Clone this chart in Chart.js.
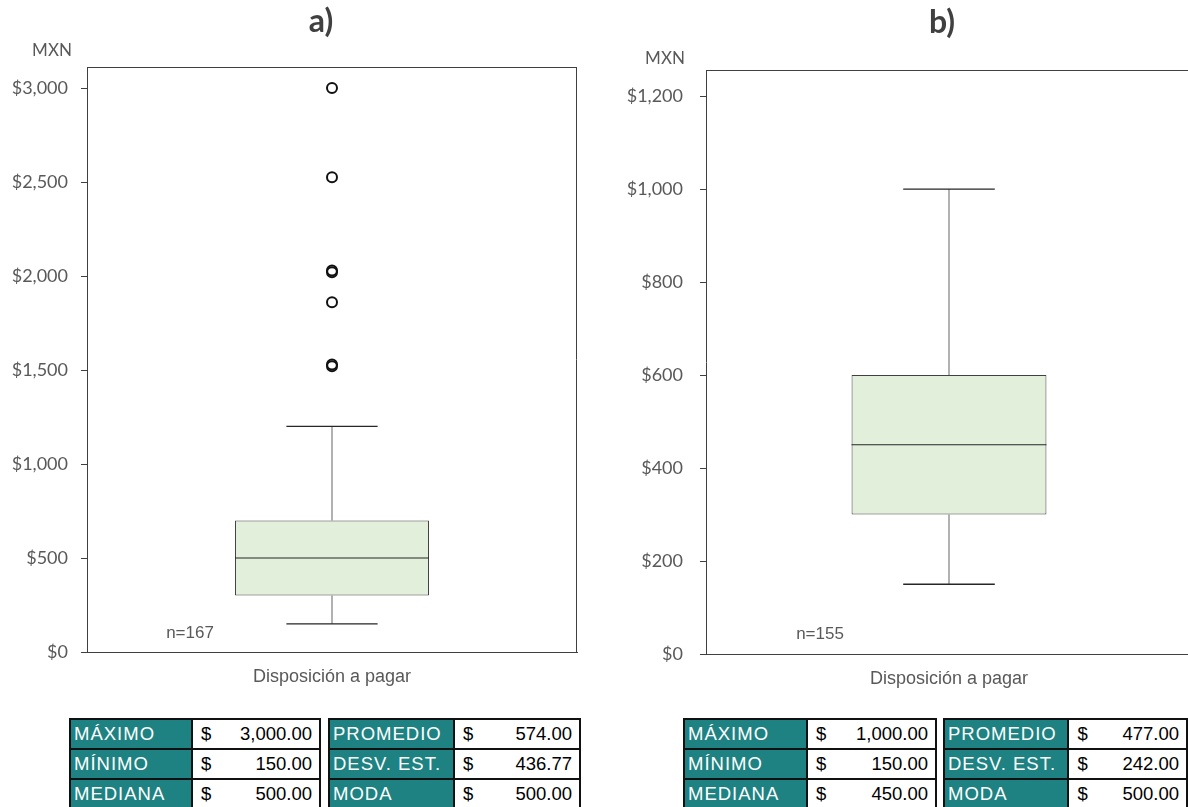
<!DOCTYPE html>
<html>
<head>
<meta charset="utf-8">
<script src="https://cdn.jsdelivr.net/npm/chart.js@4.4.1/dist/chart.umd.min.js"></script>
<style>
  html, body { margin: 0; padding: 0; background: #ffffff; overflow: hidden; width: 1188px; height: 807px; }
  .wrap { position: absolute; top: 0; }
  canvas { display: block; }
  .stats { position: absolute; border-collapse: collapse; font-family: "Liberation Sans", Arial, sans-serif; font-size: 18.5px; }
  .stats td { padding: 0; border: 2px solid #111; box-sizing: border-box; }
  .stats td.k { background: #1e8282; color: #ffffff; padding-left: 3px; letter-spacing: 1px; }
  .stats td.v { background: #ffffff; color: #000000; }
  .stats td.v span.cur { float: left; padding-left: 8px; }
  .stats td.v span.num { float: right; padding-right: 7px; }
</style>
</head>
<body>
<div class="wrap" style="left:0;width:600px;height:700px;"><canvas id="chartA" width="600" height="700"></canvas></div>
<div class="wrap" style="left:600px;width:620px;height:700px;"><canvas id="chartB" width="620" height="700"></canvas></div>
<div id="tables"></div>
<script>
// ---- data ----
const categories = ['Disposición a pagar'];

// whisker low, Q1, median, Q3, whisker high
const boxA = [150, 300, 500, 700, 1200];
const outliersA = [3000, 2525, 2030, 2020, 1860, 1530, 1520];
const boxB = [150, 300, 450, 600, 1000];
const outliersB = [];

const sampleA = 'n=167';
const sampleB = 'n=155';

const yTicksA = [0, 500, 1000, 1500, 2000, 2500, 3000];
const yTicksB = [0, 200, 400, 600, 800, 1000, 1200];

const statLabelsLeft = ['MÁXIMO', 'MÍNIMO', 'MEDIANA'];
const statLabelsRight = ['PROMEDIO', 'DESV. EST.', 'MODA'];
const statsA_left = [3000, 150, 500];
const statsA_right = [574, 436.77, 500];
const statsB_left = [1000, 150, 450];
const statsB_right = [477, 242, 500];

// ---- plugins ----
const boxPlotPlugin = {
  id: 'boxWhiskers',
  afterDatasetsDraw(chart, args, opts) {
    const meta = chart.getDatasetMeta(0);
    const y = chart.scales.y;
    const ctx = chart.ctx;
    const stats = opts.stats;
    meta.data.forEach((bar) => {
      const cx = bar.x;
      const half = bar.width / 2;
      const capHalf = bar.width * 0.235;
      const yLow = y.getPixelForValue(stats[0]);
      const yQ1 = y.getPixelForValue(stats[1]);
      const yMed = y.getPixelForValue(stats[2]);
      const yQ3 = y.getPixelForValue(stats[3]);
      const yHigh = y.getPixelForValue(stats[4]);
      ctx.save();
      // whisker stems
      ctx.strokeStyle = '#7f7f7f';
      ctx.lineWidth = 1.2;
      ctx.beginPath();
      ctx.moveTo(cx, yQ3); ctx.lineTo(cx, yHigh);
      ctx.moveTo(cx, yQ1); ctx.lineTo(cx, yLow);
      ctx.stroke();
      // caps
      ctx.strokeStyle = '#262626';
      ctx.lineWidth = 1.3;
      ctx.beginPath();
      ctx.moveTo(cx - capHalf, yHigh); ctx.lineTo(cx + capHalf, yHigh);
      ctx.moveTo(cx - capHalf, yLow); ctx.lineTo(cx + capHalf, yLow);
      ctx.stroke();
      // median
      ctx.strokeStyle = '#262626';
      ctx.lineWidth = 1.2;
      ctx.beginPath();
      ctx.moveTo(cx - half, yMed); ctx.lineTo(cx + half, yMed);
      ctx.stroke();
      ctx.restore();
    });
  }
};

const frameTextPlugin = {
  id: 'frameText',
  afterDraw(chart, args, opts) {
    const ctx = chart.ctx;
    const a = chart.chartArea;
    ctx.save();
    // plot frame (top and right edges; left/bottom come from the axes)
    ctx.strokeStyle = '#404040';
    ctx.lineWidth = 1;
    ctx.beginPath();
    ctx.moveTo(a.left, a.top + 0.5); ctx.lineTo(a.right, a.top + 0.5);
    ctx.moveTo(a.right - 0.5, a.top); ctx.lineTo(a.right - 0.5, a.bottom);
    ctx.stroke();
    ctx.textBaseline = 'middle';
    ctx.textAlign = 'center';
    // panel title
    ctx.fillStyle = '#404040';
    ctx.font = 'bold 32px Lato, "Open Sans", sans-serif';
    ctx.fillText(opts.title, opts.titleX, opts.titleY);
    // unit label
    ctx.fillStyle = '#595959';
    ctx.font = '17px Lato, "Open Sans", sans-serif';
    ctx.fillText('MXN', opts.unitX, opts.unitY);
    // sample size
    ctx.font = '17px "Liberation Sans", Arial, sans-serif';
    ctx.fillText(opts.sample, opts.sampleX, opts.sampleY);
    ctx.restore();
  }
};

function money(v) {
  return '$' + Number(v).toLocaleString('en-US');
}

function makeChart(id, box, outliers, cfg) {
  const outlierPoints = outliers.map(v => ({ x: categories[0], y: v }));
  return new Chart(document.getElementById(id), {
    type: 'bar',
    data: {
      labels: categories,
      datasets: [
        {
          type: 'bar',
          data: [[box[1], box[3]]],
          backgroundColor: '#e2efda',
          borderColor: '#404040',
          borderWidth: 1,
          borderSkipped: false,
          barPercentage: cfg.barPct,
          categoryPercentage: 1,
          order: 2
        },
        {
          type: 'line',
          data: outlierPoints,
          showLine: false,
          pointRadius: 5,
          pointBorderWidth: 2,
          pointBorderColor: '#111111',
          pointBackgroundColor: 'rgba(255,255,255,0)',
          order: 1
        }
      ]
    },
    options: {
      responsive: false,
      animation: false,
      layout: { padding: { top: cfg.top, right: cfg.right, left: 0, bottom: 0 } },
      plugins: {
        legend: { display: false },
        tooltip: { enabled: false },
        boxWhiskers: { stats: box },
        frameText: cfg.text
      },
      scales: {
        x: {
          offset: true,
          grid: { display: false },
          border: { display: true, color: '#404040', width: 1 },
          ticks: {
            color: '#595959',
            font: { family: '"Liberation Sans", Arial, sans-serif', size: 18 },
            padding: 6
          },
          afterFit(scale) { scale.height = cfg.xHeight; }
        },
        y: {
          min: 0,
          max: cfg.max,
          grid: { display: true, drawOnChartArea: false, drawTicks: true, tickLength: 6, color: '#404040' },
          border: { display: true, color: '#404040', width: 1 },
          ticks: {
            color: '#595959',
            font: { family: 'Lato, "Open Sans", sans-serif', size: 18 },
            padding: cfg.tickPad,
            callback: (v) => money(v)
          },
          afterBuildTicks(scale) { scale.ticks = cfg.ticks.map(v => ({ value: v })); },
          afterFit(scale) { scale.width = cfg.yWidth; }
        }
      }
    },
    plugins: [boxPlotPlugin, frameTextPlugin]
  });
}

makeChart('chartA', boxA, outliersA, {
  max: 3112, ticks: yTicksA, top: 67, right: 23, xHeight: 48, yWidth: 87, barPct: 0.396, tickPad: 13,
  text: { title: 'a)', titleX: 321, titleY: 22, unitX: 52, unitY: 51, sample: sampleA, sampleX: 190, sampleY: 633 }
});

makeChart('chartB', boxB, outliersB, {
  max: 1256, ticks: yTicksB, top: 70, right: 28, xHeight: 46, yWidth: 106, barPct: 0.401, tickPad: 17,
  text: { title: 'b)', titleX: 342, titleY: 23, unitX: 65, unitY: 59, sample: sampleB, sampleX: 220, sampleY: 634 }
});

// ---- summary tables ----
function fmt(v) {
  return Number(v).toLocaleString('en-US', { minimumFractionDigits: 2, maximumFractionDigits: 2 });
}

function makeTable(left, top, keyW, valW, labels, values) {
  const t = document.createElement('table');
  t.className = 'stats';
  t.style.left = left + 'px';
  t.style.top = top + 'px';
  labels.forEach((lab, i) => {
    const tr = document.createElement('tr');
    const k = document.createElement('td');
    k.className = 'k';
    k.style.width = keyW + 'px';
    k.style.height = '30px';
    k.textContent = lab;
    const v = document.createElement('td');
    v.className = 'v';
    v.style.width = valW + 'px';
    v.style.height = '30px';
    v.innerHTML = '<span class="cur">$</span><span class="num">' + fmt(values[i]) + '</span>';
    tr.appendChild(k);
    tr.appendChild(v);
    t.appendChild(tr);
  });
  document.getElementById('tables').appendChild(t);
}

makeTable(69, 718, 122, 128, statLabelsLeft, statsA_left);
makeTable(328, 718, 125, 126, statLabelsRight, statsA_right);
makeTable(683, 718, 123, 129, statLabelsLeft, statsB_left);
makeTable(943, 718, 126, 126, statLabelsRight, statsB_right);
</script>
</body>
</html>
